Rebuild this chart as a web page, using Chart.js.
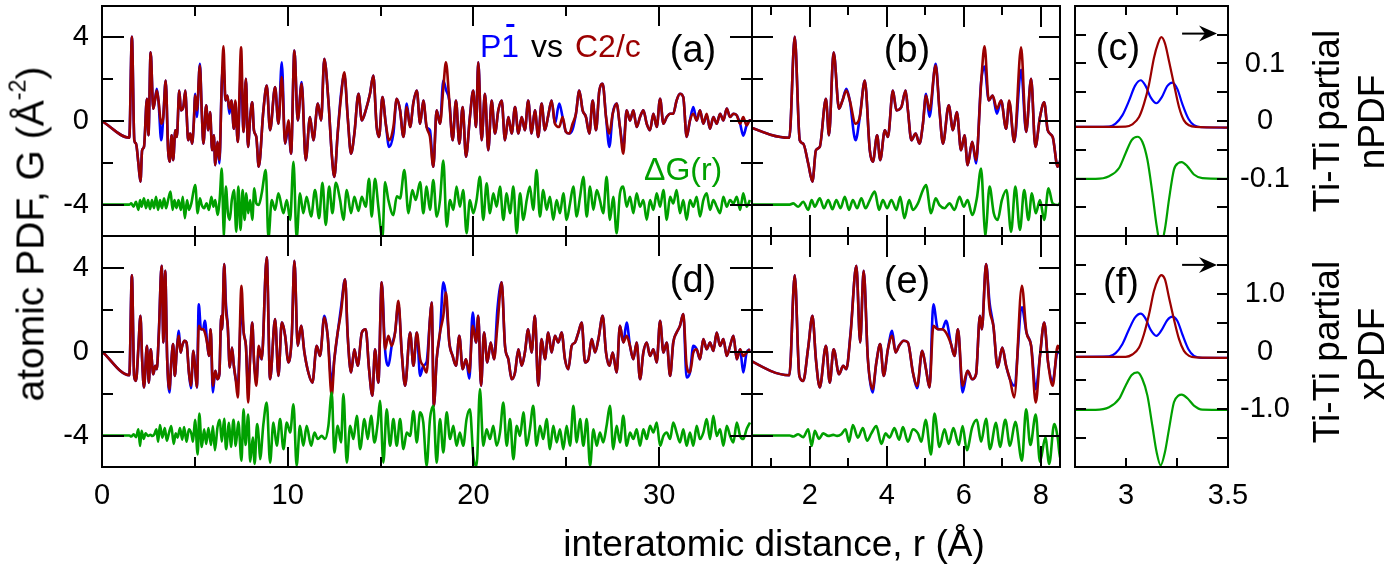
<!DOCTYPE html>
<html>
<head>
<meta charset="utf-8">
<script src="https://cdn.jsdelivr.net/npm/chart.js@4.4.1/dist/chart.umd.min.js"></script>
<style>
  body { margin: 0; background: #fff; }
  #page { position: relative; width: 1393px; height: 567px; overflow: hidden;
          font-family: 'Liberation Sans', Arial, sans-serif; color: #000; }
  canvas { position: absolute; }
  .t { position: absolute; white-space: nowrap; font-size: 37px; line-height: 1;
       transform: translate(-50%, -50%); }
  .r { transform: translate(-50%, -50%) rotate(-90deg); }
  sup { font-size: 0.6em; vertical-align: 0.75em; line-height: 0; }
</style>
</head>
<body>
<div id="page">
  <canvas id="ca" width="760" height="240" style="left:0;top:0"></canvas>
  <canvas id="cb" width="368" height="240" style="left:700px;top:0"></canvas>
  <canvas id="cc" width="300" height="240" style="left:1040px;top:0"></canvas>
  <canvas id="cd" width="760" height="337" style="left:0;top:230px"></canvas>
  <canvas id="ce" width="368" height="337" style="left:700px;top:230px"></canvas>
  <canvas id="cf" width="300" height="337" style="left:1040px;top:230px"></canvas>
  <div class="t r" style="left:30px;top:234px;font-size:39px">atomic PDF, G (Å<sup>-2</sup>)</div>
  <div class="t" style="left:774px;top:543px">interatomic distance, r (Å)</div>
  <div class="t r" style="left:1326px;top:121px">Ti-Ti partial</div>
  <div class="t r" style="left:1371px;top:122px">nPDF</div>
  <div class="t r" style="left:1326px;top:352px">Ti-Ti partial</div>
  <div class="t r" style="left:1371px;top:354px">xPDF</div>
</div>
<script>
// ---- neutron PDF, P-1 (blue) and C2/c (red), same r grid ----
const rN = [
  0, 1.47, 1.61, 1.74, 1.83, 1.96, 2.07, 2.16, 2.26, 2.42,
  2.50, 2.62, 2.76, 2.85, 2.95, 3.04, 3.19, 3.30, 3.43, 3.56,
  3.64, 3.75, 3.83, 3.95, 4.03, 4.16, 4.25, 4.38, 4.49, 4.55,
  4.64, 4.75, 4.85, 4.94, 5.02, 5.11, 5.27, 5.37, 5.46, 5.61,
  5.72, 5.82, 5.93, 6.02, 6.10, 6.22, 6.32, 6.45, 6.54, 6.65,
  6.75, 6.86, 6.97, 7.10, 7.18, 7.31, 7.49, 7.62, 7.75, 7.86,
  7.98, 8.09, 8.18, 8.31, 8.44,
  8.69, 8.87, 9.05, 9.32, 9.50, 9.68, 9.86, 10.04, 10.18, 10.36,
  10.54, 10.75, 10.97, 11.20, 11.38, 11.62, 11.80, 11.97, 12.19, 12.37,
  12.51, 12.69, 12.87, 13.05, 13.23, 13.41, 13.59, 13.81, 13.99, 14.20,
  14.43, 14.61, 14.79, 14.92, 15.10, 15.28, 15.46, 15.69, 15.87, 16.05,
  16.23, 16.41, 16.59, 16.77, 16.95, 17.13,
  17.30, 17.48, 17.66, 17.84, 18.02, 18.20, 18.38, 18.52, 18.70, 18.88,
  19.06, 19.24, 19.42, 19.60, 19.81, 19.99, 20.14, 20.26, 20.44, 20.62,
  20.80, 20.98, 21.16, 21.34, 21.52, 21.70, 21.88, 22.06, 22.24, 22.42,
  22.60, 22.77, 22.95, 23.13, 23.31, 23.49, 23.67, 23.85, 24.03, 24.21,
  24.39, 24.62, 24.80, 24.98, 25.16, 25.34, 25.52, 25.70, 25.88, 26.06,
  26.24, 26.42, 26.60, 26.78, 26.96, 27.14, 27.32, 27.50, 27.71, 27.89,
  28.07, 28.25, 28.43, 28.61, 28.79, 28.97, 29.15, 29.33, 29.51, 29.69,
  29.87, 30.05, 30.23, 30.41, 30.59, 30.76, 30.94, 31.12, 31.30, 31.48,
  31.66, 31.84, 32.02, 32.20, 32.38, 32.56, 32.74, 32.92, 33.10, 33.28,
  33.46, 33.64, 33.82, 34.00, 34.18, 34.36, 34.53, 34.71, 34.89, 35.00
];
const nC2c = [
  0, -0.80, 4.03, -0.92, -1.08, -2.03, -2.90, -1.40, -1.24, 1.06,
  -0.68, 3.29, 0.59, 0.98, 1.46, 0.98, -0.13, 0.19, 1.94, -1.40,
  -1.95, -0.68, -1.87, -0.44, -0.76, 1.46, 0.51, 0.67, 1.46, 0.51,
  -0.92, -0.60, -1.08, -0.13, 1.22, 0.51, 2.65, 0.51, -1.08, 0.75,
  -0.44, 0.43, -1.40, -0.68, -2.11, -1.00, -1.87, 1.78, 3.57, 0.98,
  1.22, 0.59, 0.98, -0.37, 0.98, -1.00, 3.52, -0.52, 2.02, -1.24,
  0.19, 0.90, -0.44, -0.76, -2.19,
  0.51, 1.70, -0.44, 1.62, -0.13, 2.10, -1.08, 0.03, -1.56, 3.37,
  0.03, 1.78, -1.87, 0.19, -0.92, 0.83, 0.03, 2.97, 0.98, -1.56,
  -2.67, -0.60, 1.14, 2.33, 0.19, -1.56, -0.60, 1.30, 0.03, 0.51,
  1.30, 2.17, -0.29, -0.76, 1.14, -0.13, -0.92, -0.29, 1.06, 0.51,
  -0.76, 0.67, -0.29, 0.90, 1.46, -0.13,
  0.98, -0.29, -0.76, -2.19, 0.51, -0.13, 1.60, 2.81, 0.98, -0.92,
  0.98, -1.08, 0.67, -1.71, 0.19, 1.46, -0.29, 2.81, -0.92, 1.30,
  -1.40, 0.98, -0.60, 0.51, 0.98, -0.92, 0.19, -0.60, 0.67, -0.60,
  0.19, -0.44, 0.98, -0.60, 0.51, -0.76, 0.83, -0.44, 0.27, 0.98,
  -0.13, -0.29, 0.19, -0.52, -0.60, -0.13, 0.35, 1.46, 0.51, 0.19,
  -0.60, 0.98, -0.44, 1.46, 1.78, 0.19, -0.60, 0.35, 0.83, -0.29,
  -1.56, 0.51, 0.03, 0.51, -0.29, 0.19, 0.51, -0.13, -0.44, 0.35,
  -0.29, 1.06, -0.13, 0.19, 0.35, 0.35, 0.98, 1.30, 1.14, -0.76,
  0.03, 0.35, 0.03, 0.51, -0.13, 0.35, -0.37, 0.19, -0.13, 0.35,
  0.03, 0.59, 0.19, 0.35, 0.27, -0.13, 0.19, -0.21, 0.03, 0.00
];
const nP1 = [
  0, -0.80, 4.03, -0.92, -1.08, -2.03, -2.90, -1.40, -1.24, 1.06,
  -0.68, 3.29, 0.59, 0.98, 1.54, 0.98, -0.92, 0.19, 1.94, -1.40,
  -1.95, -0.68, -1.87, -0.44, -0.76, 1.46, 0.51, 0.67, 1.46, 0.51,
  -0.92, -0.60, -1.08, -0.13, 1.30, 0.19, 2.73, 0.51, -1.08, 0.75,
  -0.44, 0.43, -1.40, -0.68, -2.11, -1.00, -2.03, 1.85, 2.60, 0.98,
  1.22, 0.35, 0.98, -0.37, 0.90, -1.00, 2.45, -0.52, 2.02, -1.24,
  0.19, 0.90, -0.44, -0.76, -2.19,
  0.51, 1.70, -0.44, 1.62, -0.13, 2.81, -1.08, -0.29, -1.56, 3.37,
  0.03, 1.86, -1.87, 0.19, -0.92, 0.83, 0.03, 2.97, 0.98, -1.56,
  -2.67, -0.60, 1.30, 2.20, 0.19, -1.56, -0.60, 1.30, 0.03, 0.51,
  1.30, 2.17, -0.29, -0.76, 1.14, -0.13, -1.24, -0.60, 1.06, 0.51,
  -0.76, 0.83, -0.29, 0.90, 1.46, -0.13,
  0.98, -0.29, -0.44, -2.19, 0.51, -0.13, 1.94, 1.50, 0.98, -0.92,
  0.98, -1.08, 0.67, -1.71, 0.19, 1.46, -0.29, 2.81, -0.92, 1.30,
  -1.40, 0.98, -0.60, 0.51, 0.98, -0.92, 0.19, -0.60, 0.67, -0.60,
  0.19, -0.44, 0.98, -0.60, 0.51, -0.76, 0.83, -0.44, 0.27, 0.98,
  -0.13, 0.83, 0.19, -0.52, -0.60, -0.40, 0.35, 1.46, 0.51, 0.19,
  -0.60, 0.98, -0.44, 1.46, 1.78, 0.19, -1.24, 0.35, 0.83, -0.29,
  -1.24, 0.51, 0.03, 0.51, -0.29, 0.19, 0.51, -0.13, -0.44, 0.35,
  -0.29, 1.06, -0.13, 0.19, 0.35, 0.35, 0.98, 1.30, 1.14, -0.76,
  0.03, 0.67, 0.03, 0.51, -0.13, 0.27, -0.37, 0.19, -0.13, 0.35,
  0.03, 0.59, 0.19, 0.35, 0.27, -0.13, -0.70, -0.21, 0.03, 0.00
];

// ---- difference curves (plotted at an offset) ----
const rTail = [
  17.30, 17.48, 17.66, 17.84, 18.02, 18.20, 18.38, 18.56, 18.74, 18.92,
  19.09, 19.27, 19.45, 19.63, 19.81, 19.99, 20.17, 20.35, 20.53, 20.71,
  20.89, 21.07, 21.25, 21.43, 21.61, 21.79, 21.97, 22.15, 22.33, 22.51,
  22.69, 22.87, 23.04, 23.22, 23.40, 23.58, 23.76, 23.94, 24.12, 24.30,
  24.48, 24.66, 24.84, 25.02, 25.20, 25.38, 25.56, 25.74, 25.92, 26.10,
  26.28, 26.46, 26.64, 26.81, 26.99, 27.17, 27.35, 27.53, 27.71, 27.89,
  28.07, 28.25, 28.43, 28.61, 28.79, 28.97, 29.15, 29.33, 29.51, 29.69,
  29.87, 30.05, 30.23, 30.41, 30.59, 30.76, 30.94, 31.12, 31.30, 31.48,
  31.66, 31.84, 32.02, 32.20, 32.38, 32.56, 32.74, 32.92, 33.10, 33.28,
  33.46, 33.64, 33.82, 34.00, 34.18, 34.36, 34.53, 34.71, 34.89
];
const rNd = [
  0, 1.48, 1.57, 1.70, 1.83, 1.96, 2.05, 2.13, 2.26, 2.37,
  2.48, 2.59, 2.69, 2.80, 2.91, 3.02, 3.12, 3.23, 3.34, 3.45,
  3.56, 3.69, 3.80, 3.90, 4.01, 4.12, 4.25, 4.35, 4.46, 4.58,
  4.68, 4.81, 4.94, 5.02, 5.15, 5.27, 5.37, 5.50, 5.63, 5.76,
  5.89, 6.00, 6.10, 6.22, 6.34, 6.45, 6.56, 6.67, 6.78, 6.88,
  6.99, 7.11, 7.23, 7.34, 7.46, 7.57, 7.68, 7.77, 7.87, 7.98,
  8.09, 8.20, 8.31, 8.44,
  8.60, 8.82, 8.96, 9.14, 9.32, 9.50, 9.77, 9.95, 10.13, 10.31,
  10.48, 10.66, 10.84, 11.02, 11.26, 11.47, 11.69, 11.87, 12.05, 12.23,
  12.41, 12.59, 12.82, 13.00, 13.18, 13.41, 13.59, 13.81, 13.99, 14.20,
  14.38, 14.52, 14.70, 14.88, 15.10, 15.24, 15.42, 15.69, 15.87, 16.05,
  16.28, 16.50, 16.71, 16.89, 17.13,
  ...rTail
];
const nDiff = [
  0, 0, 0.06, -0.10, 0.14, -0.25, 0.22, -0.10, 0.30, -0.17,
  0.22, -0.22, 0.22, -0.17, 0.38, -0.25, 0.22, -0.17, 0.30, -0.17,
  0.22, 0.62, -0.25, 0.22, -0.17, 0.22, -0.25, 0.38, -0.65, 0.22,
  -0.25, 0.06, 0.70, 0.94, -0.41, 0.30, -0.02, -0.17, 0.06, -0.25,
  0.38, -0.10, 0.22, -0.49, 0.30, 1.73, -1.52, 0.86, -0.41, -0.73,
  0.22, 0.70, -1.30, 0.86, -1.21, 0.70, -0.73, 0.54, -0.41, 0.22,
  -0.73, 0.78, 0.06, -0.02,
  0.54, 1.65, -1.60, 0.22, -0.25, 0.54, -0.41, 0.22, -0.73, 2.05,
  -1.60, 0.54, -0.41, 0.38, -0.57, 0.70, -0.65, 1.05, -0.97, 0.86,
  -0.41, 1.05, 0.22, -0.73, 0.70, -0.41, 0.38, -0.30, 0.38, -0.10,
  1.24, -0.57, 1.24, -0.10, -1.60, 1.08, 0.22, -0.50, 0.40, 0.30,
  1.65, -0.41, 0.70, 0.22, 1.08,
  -0.41, 0.86, -0.25, 1.17, -0.57, 0.22, 2.11, -1.05, 0.22, -0.25,
  0.86, -0.10, 0.70, -1.37, 0.22, -0.41, 0.22, 1.33, -0.73, 1.02,
  -0.41, 0.54, -0.10, 0.86, -0.73, 0.54, -0.41, 0.86, -1.37, 0.54,
  -0.73, 0.22, 0.86, -0.25, 1.65, -0.57, 0.70, -0.25, 0.38, -0.73,
  0.22, -0.41, 0.54, -0.73, 0.06, 0.86, -0.57, 0.38, 1.33, -0.57,
  0.86, -0.25, 0.70, 0.22, -0.41, 1.33, -0.73, 0.38, -1.37, 0.54,
  0.86, -0.10, 0.38, -0.41, 0.54, -0.10, 0.22, -0.73, 0.22, -0.25,
  0.54, -0.10, 0.70, -0.73, 0.38, 0.06, 0.70, -0.41, 0.22, -0.73,
  0.22, -0.10, 0.38, -0.57, 0.22, 0.54, -0.25, 0.22, -0.10, -0.41,
  0.38, -0.10, 0.22, 0.06, 0.38, -0.25, 0.54, -0.10, 0.22
];

// ---- x-ray PDF ----
const rX = [
  0, 1.47, 1.61, 1.73, 1.83, 1.96, 2.07, 2.16, 2.26, 2.42,
  2.52, 2.62, 2.76, 2.87, 2.95, 3.06, 3.21, 3.31, 3.40, 3.51,
  3.63, 3.73, 3.83, 3.92, 4.03, 4.14, 4.23, 4.32, 4.44, 4.55,
  4.68, 4.79, 4.92, 5.02, 5.11, 5.21, 5.33, 5.44, 5.54, 5.67,
  5.76, 5.85, 5.97, 6.10, 6.22, 6.32, 6.42, 6.47, 6.58, 6.67,
  6.77, 6.88, 7.00, 7.10, 7.20, 7.31, 7.51, 7.63, 7.75, 7.87,
  7.98, 8.09, 8.19, 8.31, 8.44,
  8.60, 8.87, 9.05, 9.32, 9.50, 9.68, 9.86, 10.04, 10.22, 10.36,
  10.54, 10.72, 10.90, 11.11, 11.33, 11.56, 11.74, 11.97, 12.15, 12.37,
  12.51, 12.69, 12.87, 13.09, 13.23, 13.41, 13.59, 13.77, 13.99, 14.20,
  14.38, 14.56, 14.70, 14.88, 15.06, 15.24, 15.42, 15.60, 15.78, 15.96,
  16.14, 16.32, 16.59, 16.77, 16.95, 17.13,
  17.30, 17.48, 17.66, 17.75, 17.87, 18.02, 18.20, 18.38, 18.52, 18.70,
  18.88, 19.06, 19.24, 19.42, 19.60, 19.78, 19.96, 20.14, 20.26, 20.41,
  20.57, 20.75, 20.93, 21.11, 21.29, 21.52, 21.70, 21.88, 22.06, 22.24,
  22.42, 22.60, 22.77, 22.95, 23.13, 23.31, 23.49, 23.67, 23.85, 24.03,
  24.21, 24.39, 24.57, 24.75, 24.93, 25.11, 25.29, 25.47, 25.65, 25.83,
  26.01, 26.19, 26.37, 26.55, 26.73, 26.96, 27.14, 27.32, 27.50, 27.71,
  27.89, 28.07, 28.25, 28.43, 28.61, 28.79, 28.97, 29.15, 29.33, 29.51,
  29.69, 29.87, 30.05, 30.23, 30.41, 30.59, 30.76, 30.94, 31.12, 31.30,
  31.48, 31.66, 31.84, 32.02, 32.20, 32.38, 32.56, 32.74, 32.92, 33.10,
  33.28, 33.46, 33.64, 33.82, 34.00, 34.18, 34.36, 34.53, 34.71, 34.89
];
const xC2c = [
  0, -1.13, 3.63, -1.16, -1.40, 0.19, 1.70, -0.37, -1.71, 0.27,
  -1.48, 0.11, -1.08, -0.68, -0.84, 0.83, 4.08, 0.43, 3.84, -0.37,
  -1.79, -0.52, 0.35, -1.16, 0.11, 0.75, -0.05, 0.27, 0.51, 0.43,
  -1.00, -1.63, 0.03, -0.84, -1.71, 1.22, 1.06, 1.06, 0.90, 0.35,
  -0.21, 1.06, -1.63, -0.92, -1.32, -1.08, 1.70, 1.06, 4.16, 2.02,
  1.22, -0.76, 0.19, -0.68, -1.32, -2.19, 3.13, 0.90, 0.27, -2.43,
  -0.21, 1.38, -0.52, -1.63, 0.27,
  -0.37, 4.48, -1.32, 1.54, -1.16, 1.38, 0.75, -0.52, 0.75, 4.32,
  0.27, 1.22, -0.05, -1.00, -1.48, 0.27, -0.21, 1.62, 0.75, -2.11,
  -0.37, 0.90, 1.86, 3.44, 0.75, -1.00, 0.11, -0.68, 0.90, 1.06,
  -0.84, -2.11, 0.11, -1.48, 3.29, 0.11, 0.75, 0.27, 0.90, 2.41,
  -0.05, -1.63, 0.90, -0.68, 0.90, -0.37,
  -0.68, -1.00, 1.54, 2.33, -2.59, -0.37, 0.90, 1.70, 2.81, 0.43,
  -0.21, -0.68, 0.75, -0.84, -0.37, -1.00, 1.22, 0.43, 1.70, -1.63,
  0.90, -0.52, 0.43, -0.37, 1.22, 3.29, 0.27, -0.37, -1.32, -1.00,
  0.11, -0.68, -0.05, 1.06, -0.05, 1.70, -1.63, 0.59, -0.37, 0.90,
  -0.05, 0.75, 0.43, 0.90, -0.37, -0.84, 0.27, 0.43, 0.90, 1.38,
  -0.52, -0.37, 0.59, -0.05, 0.59, 1.70, -0.05, -0.68, -0.05, -1.00,
  1.22, 0.43, 0.75, 0.27, -0.37, 0.43, -1.32, -0.05, 0.43, -0.21,
  0.11, -0.52, 1.46, -0.05, 0.43, -1.16, 0.43, 0.90, 1.22, 1.78,
  -0.68, -1.00, -0.05, 0.11, -0.37, 0.59, 0.11, 0.43, 0.03, 0.90,
  0.27, 0.59, -0.21, 0.27, 0.75, -0.37, 0.11, -0.21, -0.05, 0.11
];
const xP1 = [
  0, -1.13, 3.63, -1.16, -1.40, 0.19, 1.70, -0.37, -1.71, 0.27,
  -1.48, 0.11, -1.08, -0.68, -0.84, 0.90, 4.08, 0.43, 3.84, -0.37,
  -1.95, -0.52, 0.35, -1.16, 0.11, 0.98, -0.05, 0.27, 0.51, 0.43,
  -1.00, -1.75, 0.03, -0.84, -1.71, 2.25, 1.06, 1.06, 1.46, 0.35,
  -0.21, 1.06, -1.95, -0.92, -1.32, -1.08, 1.70, 1.06, 4.16, 2.33,
  1.22, -0.76, 0.19, -0.68, -1.32, -1.63, 2.10, 0.90, 0.27, -1.80,
  -0.21, 1.38, -0.52, -1.40, 0.00,
  -0.37, 4.48, -1.32, 1.54, -1.16, 1.38, 0.75, -0.52, 0.75, 4.32,
  0.27, 1.22, -0.05, -1.00, -1.48, 0.27, -0.21, 1.70, 0.75, -1.48,
  -0.37, 0.90, 2.10, 3.44, 0.75, -1.00, 0.11, -0.68, 0.90, 1.06,
  -0.84, -2.11, 0.11, -1.48, 3.29, 0.11, -0.68, 0.27, 0.90, 2.25,
  -0.05, -1.63, 0.90, -0.68, 0.90, -1.16,
  -0.68, -0.50, 1.54, 2.33, -2.59, -0.37, 0.90, 3.29, 2.65, 0.43,
  -0.21, -0.68, 0.75, -0.84, -0.37, -1.30, 1.86, 0.43, 1.70, -1.63,
  0.90, -0.52, 0.43, -0.37, 2.00, 3.29, 0.27, -0.37, -1.32, -1.00,
  0.11, -0.68, -0.05, 1.06, -0.05, 1.70, -1.63, 0.59, -0.37, 0.90,
  -0.05, 0.75, 0.43, 0.90, -0.37, -0.84, 0.27, 0.43, 0.90, 1.38,
  -0.52, -0.37, 0.59, -0.05, 0.59, 1.70, -0.05, -0.68, -0.05, -1.00,
  1.22, 0.43, 1.38, 0.27, -0.37, 0.43, -1.32, -0.05, 0.43, -0.21,
  0.11, -0.52, 1.46, -0.05, 0.43, -1.16, 0.43, 0.90, 1.22, 1.78,
  -1.24, -1.00, 0.27, 0.11, -0.37, 0.59, 0.11, 0.43, 0.03, 0.90,
  0.27, 0.59, -0.21, 0.27, 0.75, -0.37, 0.11, -1.00, -0.05, 0.11
];
const rXd = [
  0, 1.48, 1.57, 1.70, 1.83, 1.96, 2.05, 2.13, 2.24, 2.35,
  2.48, 2.61, 2.71, 2.82, 2.93, 3.02, 3.12, 3.25, 3.38, 3.49,
  3.60, 3.73, 3.86, 3.97, 4.07, 4.20, 4.32, 4.42, 4.55, 4.68,
  4.81, 4.90, 5.01, 5.15, 5.24, 5.37, 5.50, 5.61, 5.73, 5.87,
  5.97, 6.08, 6.22, 6.34, 6.45, 6.58, 6.68, 6.84, 6.94, 7.08,
  7.20, 7.34, 7.51, 7.62, 7.73, 7.87, 7.98, 8.12, 8.22, 8.35,
  8.44,
  8.51, 8.69, 8.87, 9.05, 9.23, 9.41, 9.59, 9.77, 9.95, 10.13,
  10.31, 10.48, 10.66, 10.84, 11.02, 11.26, 11.44, 11.62, 11.83, 12.01,
  12.19, 12.37, 12.51, 12.69, 12.87, 13.00, 13.18, 13.36, 13.54, 13.72,
  13.90, 14.13, 14.31, 14.49, 14.67, 14.85, 14.97, 15.15, 15.33, 15.51,
  15.69, 15.87, 16.05, 16.23, 16.41, 16.59, 16.77, 16.95, 17.13,
  ...rTail
];
const xDiff = [
  0, 0, -0.05, 0.06, -0.08, 0.30, -0.50, 0.22, -0.16, 0.10,
  -0.02, 0.03, -0.02, 0.06, 0.30, -0.30, 0.50, -0.10, 0.35, -0.25,
  0.10, 0.45, -0.40, 0.10, -0.10, 0.35, -0.20, 0.40, -0.30, 0.30,
  0.10, -0.30, 0.75, -0.90, 1.05, -0.55, 0.30, -0.40, 0.35, -0.45,
  0.45, -0.70, 0.40, 0.75, -0.30, 0.80, -0.65, 0.60, -0.55, 0.75,
  -0.50, 0.65, -1.20, 1.25, -0.45, 1.00, -1.25, -0.10, -1.35, 0.55,
  -0.10,
  -1.13, 0.54, 1.57, -1.29, 0.62, -0.49, 0.78, -0.65, 0.62, 0.14,
  1.49, -1.44, 0.46, -0.49, 0.46, -0.49, 0.14, -0.17, -0.02, -0.17,
  0.46, 2.05, -0.81, 0.46, -0.33, 1.97, -1.29, 0.46, -0.17, 0.94,
  -0.65, 0.78, -0.17, 0.94, -0.33, 0.62, 1.65, -1.29, 1.25, -0.49,
  0.78, -0.49, 0.78, -0.65, 0.14, -0.02, 1.17, -0.33, 1.10,
  0.62, -1.44, 0.78, 1.41, -1.30, 0.78, -0.81, 1.10, -0.17, 0.46,
  -0.49, 0.14, -0.49, 0.78, 1.25, -0.97, -1.44, 2.21, -0.49, 0.30,
  -0.17, 0.46, -0.49, 0.14, 1.57, -0.49, 0.78, -1.13, 0.46, -0.02,
  1.10, -0.49, 0.30, 1.41, -0.49, 0.46, -0.17, 0.78, -0.65, 0.46,
  -0.33, 0.30, -0.65, 0.46, -0.49, 1.41, -0.33, 0.78, -0.49, 0.78,
  -1.44, 0.30, -0.49, 0.14, -0.33, 0.46, 1.41, -0.65, 0.46, -0.33,
  0.94, -0.49, 0.14, -0.17, 0.30, -0.49, 0.30, -0.17, 0.46, 0.14,
  0.62, -0.49, -0.02, 0.14, -0.17, 0.62, 0.14, -0.33, 0.30, -0.49,
  0.14, -0.49, 0.46, -0.17, 0.14, 0.78, -0.17, 0.94, -0.02, 0.30,
  -0.49, 0.46, -0.02, -0.33, 0.62, -0.02, -0.17, 0.30, 0.62
];

// ---- Ti-Ti partials near 3.1 A ----
const tiR_C2c = [2.745, 2.998, 3.031, 3.064, 3.088, 3.113, 3.137, 3.157, 3.173, 3.191, 3.211, 3.235, 3.260, 3.284, 3.309, 3.342, 3.497];
const tiR_P1 = [2.745, 2.917, 2.949, 2.982, 3.015, 3.044, 3.072, 3.096, 3.121, 3.149, 3.175, 3.203, 3.227, 3.252, 3.276, 3.306, 3.333, 3.374, 3.497];
const tiR_d = [2.745, 2.851, 2.917, 2.966, 2.998, 3.028, 3.056, 3.080, 3.105, 3.129, 3.150, 3.170, 3.191, 3.211, 3.235, 3.257, 3.273, 3.301, 3.333, 3.374, 3.497];
const nTi_C2c = [-0.0103, -0.0097, -0.0057, 0.0069, 0.0297, 0.064, 0.1097, 0.135, 0.1457, 0.135, 0.104, 0.064, 0.024, 0.0011, -0.0074, -0.0103, -0.0114];
const nTi_P1 = [-0.0103, -0.0097, -0.0046, 0.0097, 0.0354, 0.0611, 0.0709, 0.0611, 0.0411, 0.0309, 0.0411, 0.0611, 0.0669, 0.0554, 0.0297, 0.004, -0.0074, -0.0109, -0.0114];
const nTi_d = [-0.0006, -0.0006, 0.004, 0.0183, 0.044, 0.0669, 0.0726, 0.064, 0.0326, -0.0246, -0.0817, -0.116, -0.0874, -0.036, 0.0154, 0.0269, 0.0286, 0.0211, 0.0069, 0.0006, -0.0006];
const xTi_C2c = [-0.092, -0.092, -0.052, 0.069, 0.299, 0.644, 1.046, 1.247, 1.322, 1.247, 0.931, 0.557, 0.213, 0.011, -0.075, -0.103, -0.109];
const xTi_P1 = [-0.092, -0.086, -0.029, 0.126, 0.385, 0.586, 0.655, 0.569, 0.374, 0.270, 0.374, 0.546, 0.603, 0.529, 0.299, 0.040, -0.075, -0.109, -0.109];
const xTi_d = [-0.011, -0.011, 0.034, 0.178, 0.408, 0.592, 0.638, 0.523, 0.236, -0.282, -0.741, -0.971, -0.741, -0.339, 0.121, 0.236, 0.253, 0.190, 0.064, -0.006, -0.011];

const FONT = "'Liberation Sans', Arial, sans-serif";
const RED = '#9b0000', BLUE = '#0000ff', GREEN = '#00a000';

const pts = (r, g, off = 0) => r.map((v, i) => ({ x: v, y: g[i] + off }));
const line = (data, color, w) => ({
  data, borderColor: color, borderWidth: w, pointRadius: 0, fill: false,
  cubicInterpolationMode: 'monotone'
});

// ticks on every multiple of the step inside [min, max]
function stepTicks(lo, hi, st) {
  const out = [];
  for (let k = Math.ceil(lo / st - 1e-9); k * st <= hi + 1e-9; k++) {
    out.push({ value: +(k * st).toFixed(6) });
  }
  return out;
}

// inward tick marks, frame and the panel letter
const framePlugin = {
  id: 'frame',
  afterDatasetsDraw(chart, args, o) {
    const { ctx, chartArea: a } = chart;
    const sx = chart.scales.x, sy = chart.scales.y;
    const on = (v, s) => Math.abs(v / s - Math.round(v / s)) < 1e-6;
    ctx.save();
    ctx.strokeStyle = '#000';
    ctx.lineWidth = 2;
    ctx.beginPath();
    sx.ticks.forEach(t => {
      if (t.value <= sx.min + 1e-9 || t.value >= sx.max - 1e-9) return;
      const p = Math.round(sx.getPixelForValue(t.value));
      const L = on(t.value, o.xMajor) ? o.xLong : o.xShort;
      ctx.moveTo(p, a.top); ctx.lineTo(p, a.top + L);
      ctx.moveTo(p, a.bottom); ctx.lineTo(p, a.bottom - L);
    });
    sy.ticks.forEach(t => {
      if (t.value <= sy.min + 1e-9 || t.value >= sy.max - 1e-9) return;
      const p = Math.round(sy.getPixelForValue(t.value));
      const L = on(t.value, o.yMajor) ? o.yLong : o.yShort;
      ctx.moveTo(a.left, p); ctx.lineTo(a.left + L, p);
      ctx.moveTo(a.right, p); ctx.lineTo(a.right - L, p);
    });
    ctx.stroke();
    ctx.strokeRect(a.left, a.top, a.right - a.left, a.bottom - a.top);
    ctx.fillStyle = '#000';
    ctx.font = '38px ' + FONT;
    ctx.textAlign = 'center';
    ctx.textBaseline = 'middle';
    ctx.fillText(o.label, a.left + o.lx, a.top + o.ly);
    ctx.restore();
  }
};

// legend text inside panel (a)
const legendPlugin = {
  id: 'legendA',
  afterDatasetsDraw(chart) {
    const { ctx, chartArea: a } = chart;
    ctx.save();
    ctx.font = '32px ' + FONT;
    ctx.textBaseline = 'alphabetic';
    ctx.textAlign = 'left';
    const x0 = a.left + 378, base = a.top + 51;
    ctx.fillStyle = BLUE;
    ctx.fillText('P1', x0, base);
    const wp = ctx.measureText('P').width;
    ctx.fillRect(x0 + wp + 5, base - 33, 8, 3);
    ctx.fillStyle = '#000';
    ctx.fillText('vs', a.left + 429, base);
    ctx.fillStyle = RED;
    ctx.fillText('C2/c', a.left + 473, base);
    ctx.fillStyle = GREEN;
    ctx.fillText('ΔG(r)', a.left + 542, a.top + 174);
    ctx.restore();
  }
};

// small arrow pointing at the right-hand axis
const arrowPlugin = {
  id: 'arrow',
  afterDatasetsDraw(chart, args, o) {
    const { ctx } = chart;
    const sx = chart.scales.x, sy = chart.scales.y;
    const x1 = sx.getPixelForValue(o.from), x2 = sx.getPixelForValue(o.to), y = sy.getPixelForValue(o.at);
    ctx.save();
    ctx.strokeStyle = '#000'; ctx.fillStyle = '#000'; ctx.lineWidth = 2;
    ctx.beginPath(); ctx.moveTo(x1, y); ctx.lineTo(x2 - 8, y); ctx.stroke();
    ctx.beginPath();
    ctx.moveTo(x2, y); ctx.lineTo(x2 - 18, y - 8); ctx.lineTo(x2 - 12, y); ctx.lineTo(x2 - 18, y + 8);
    ctx.closePath(); ctx.fill();
    ctx.restore();
  }
};

function panel(id, p) {
  const tickFont = { family: FONT, size: 29 };
  return new Chart(document.getElementById(id), {
    type: 'line',
    data: { datasets: p.sets },
    options: {
      responsive: false,
      animation: false,
      events: [],
      layout: { padding: p.pad },
      plugins: {
        legend: { display: false },
        tooltip: { enabled: false },
        frame: p.frame,
        arrow: p.arrow || {}
      },
      scales: {
        x: {
          type: 'linear', min: p.x[0], max: p.x[1], position: 'bottom',
          grid: { display: false, drawTicks: false }, border: { display: false },
          ticks: {
            display: !!p.xLab, autoSkip: false,
            maxRotation: 0, padding: 12, color: '#000', font: tickFont,
            callback: p.xLab || (() => '')
          },
          afterBuildTicks: s => { s.ticks = stepTicks(p.x[0], p.x[1], p.x[2]); },
          afterFit: s => { s.height = p.xH; s.paddingLeft = 0; s.paddingRight = 0; }
        },
        y: {
          type: 'linear', min: p.y[0], max: p.y[1], position: p.yPos || 'left',
          grid: { display: false, drawTicks: false }, border: { display: false },
          ticks: {
            display: !!p.yLab, autoSkip: false,
            padding: p.yPad || 13, color: '#000', font: tickFont,
            crossAlign: p.yPos === 'right' ? 'center' : 'near',
            callback: p.yLab || (() => '')
          },
          afterBuildTicks: s => { s.ticks = stepTicks(p.y[0], p.y[1], p.y[2]); },
          afterFit: s => { s.width = p.yW; s.paddingTop = 0; s.paddingBottom = 0; }
        }
      }
    },
    plugins: [framePlugin].concat(p.extra || [])
  });
}

const near = (v, t) => Math.abs(v - t) < 1e-9;
const yLabG = v => ([4, 0, -4].some(t => near(v, t)) ? String(Math.round(v)) : '');

const nSets = [
  line(pts(rNd, nDiff, -4), GREEN, 2.6),
  line(pts(rN, nC2c), RED, 2.6),
  line(pts(rN, nP1), BLUE, 2.6)
];
const xSets = [
  line(pts(rXd, xDiff, -4), GREEN, 2.6),
  line(pts(rX, xC2c), RED, 2.6),
  line(pts(rX, xP1), BLUE, 2.6)
];

panel('ca', {
  sets: nSets, x: [0, 35, 5], y: [-5.5, 5.5, 2], xH: 0, yW: 102, yLab: yLabG,
  pad: { top: 6, right: 8, bottom: 4, left: 0 },
  frame: { xMajor: 10, xLong: 20, xShort: 10, yMajor: 4, yLong: 22, yShort: 11, label: '(a)', lx: 591, ly: 46 },
  extra: [legendPlugin]
});
panel('cb', {
  sets: nSets, x: [0.5, 8.5, 1], y: [-5.5, 5.5, 2], xH: 0, yW: 52,
  pad: { top: 6, right: 8, bottom: 4, left: 0 },
  frame: { xMajor: 2, xLong: 21, xShort: 9, yMajor: 4, yLong: 21, yShort: 11, label: '(b)', lx: 155, ly: 46 }
});
panel('cc', {
  sets: [
    line(pts(tiR_d, nTi_d, -0.1), GREEN, 2.2),
    line(pts(tiR_C2c, nTi_C2c), RED, 2.2),
    line(pts(tiR_P1, nTi_P1), BLUE, 2.2)
  ],
  x: [2.75, 3.5, 0.25], y: [-0.2, 0.2, 0.05], xH: 0, yW: 112, yPos: 'right', yPad: 12,
  yLab: v => near(v, 0.1) ? '0.1' : near(v, 0) ? '0' : near(v, -0.1) ? '-0.1' : '',
  pad: { top: 6, right: 0, bottom: 4, left: 35 },
  frame: { xMajor: 100, xLong: 9, xShort: 9, yMajor: 100, yLong: 11, yShort: 11, label: '(c)', lx: 43, ly: 44 },
  arrow: { from: 3.275, to: 3.446, at: 0.152 },
  extra: [arrowPlugin]
});
panel('cd', {
  sets: xSets, x: [0, 35, 5], y: [-5.5, 5.5, 2], xH: 100, yW: 102, yLab: yLabG,
  xLab: v => (near(v % 10, 0) && v < 35 ? String(Math.round(v)) : ''),
  pad: { top: 6, right: 8, bottom: 0, left: 0 },
  frame: { xMajor: 10, xLong: 20, xShort: 10, yMajor: 4, yLong: 22, yShort: 11, label: '(d)', lx: 591, ly: 46 }
});
panel('ce', {
  sets: xSets, x: [0.5, 8.5, 1], y: [-5.5, 5.5, 2], xH: 100, yW: 52,
  xLab: v => (near(v % 2, 0) ? String(Math.round(v)) : ''),
  pad: { top: 6, right: 8, bottom: 0, left: 0 },
  frame: { xMajor: 2, xLong: 21, xShort: 9, yMajor: 4, yLong: 21, yShort: 11, label: '(e)', lx: 155, ly: 47 }
});
panel('cf', {
  sets: [
    line(pts(tiR_d, xTi_d, -1), GREEN, 2.2),
    line(pts(tiR_C2c, xTi_C2c), RED, 2.2),
    line(pts(tiR_P1, xTi_P1), BLUE, 2.2)
  ],
  x: [2.75, 3.5, 0.25], y: [-2, 2, 0.5], xH: 100, yW: 112, yPos: 'right', yPad: 12,
  xLab: v => near(v, 3) ? '3' : near(v, 3.5) ? '3.5' : '',
  yLab: v => near(v, 1) ? '1.0' : near(v, 0) ? '0' : near(v, -1) ? '-1.0' : '',
  pad: { top: 6, right: 0, bottom: 0, left: 35 },
  frame: { xMajor: 100, xLong: 9, xShort: 9, yMajor: 100, yLong: 11, yShort: 11, label: '(f)', lx: 46, ly: 49 },
  arrow: { from: 3.275, to: 3.446, at: 1.5 },
  extra: [arrowPlugin]
});
</script>
</body>
</html>
